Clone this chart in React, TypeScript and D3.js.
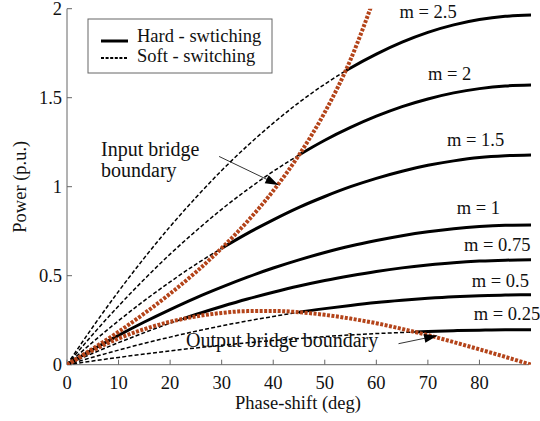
import React from "react";
import * as d3 from "d3";

// Phase-shift samples (deg)
const PHASE = [0, 5, 10, 15, 20, 25, 30, 35, 40, 45, 50, 55, 60, 65, 70, 75, 80, 85, 90];

// Transferred power (p.u.) for each voltage ratio m
const P_M250 = [0, 0.212, 0.412, 0.600, 0.776, 0.939, 1.091, 1.230, 1.357, 1.473, 1.576, 1.667, 1.745, 1.812, 1.867, 1.909, 1.939, 1.957, 1.964];
const P_M200 = [0, 0.170, 0.330, 0.480, 0.621, 0.751, 0.873, 0.984, 1.086, 1.178, 1.261, 1.333, 1.396, 1.450, 1.493, 1.527, 1.551, 1.566, 1.571];
const P_M150 = [0, 0.127, 0.247, 0.360, 0.465, 0.564, 0.654, 0.738, 0.814, 0.884, 0.945, 1.000, 1.047, 1.087, 1.120, 1.145, 1.164, 1.174, 1.178];
const P_M100 = [0, 0.085, 0.165, 0.240, 0.310, 0.376, 0.436, 0.492, 0.543, 0.589, 0.630, 0.667, 0.698, 0.725, 0.747, 0.764, 0.776, 0.783, 0.785];
const P_M075 = [0, 0.064, 0.124, 0.180, 0.233, 0.282, 0.327, 0.369, 0.407, 0.442, 0.473, 0.500, 0.524, 0.544, 0.560, 0.573, 0.582, 0.587, 0.589];
const P_M050 = [0, 0.042, 0.082, 0.120, 0.155, 0.188, 0.218, 0.246, 0.271, 0.295, 0.315, 0.333, 0.349, 0.362, 0.373, 0.382, 0.388, 0.391, 0.393];
const P_M025 = [0, 0.021, 0.041, 0.060, 0.078, 0.094, 0.109, 0.123, 0.136, 0.147, 0.158, 0.167, 0.175, 0.181, 0.187, 0.191, 0.194, 0.196, 0.196];

const M_LABELS = ["m = 2.5", "m = 2", "m = 1.5", "m = 1", "m = 0.75", "m = 0.5", "m = 0.25"];
const M_SERIES = [P_M250, P_M200, P_M150, P_M100, P_M075, P_M050, P_M025];
// Phase-shift where each curve leaves the soft-switching region (deg)
const SWITCH_DEG = [54, 45, 30, 0, 22.5, 45, 67.5];

// Soft-switching boundaries
const INPUT_PHASE = [0, 5, 10, 15, 20, 25, 30, 35, 40, 45, 50, 55, 60];
const INPUT_BOUNDARY = [0, 0.090, 0.185, 0.288, 0.399, 0.520, 0.655, 0.805, 0.977, 1.178, 1.418, 1.714, 2.094];
const OUTPUT_BOUNDARY = [0, 0.080, 0.147, 0.200, 0.241, 0.271, 0.291, 0.301, 0.302, 0.295, 0.280, 0.259, 0.233, 0.201, 0.166, 0.127, 0.086, 0.044, 0];

const X_TICKS = [0, 10, 20, 30, 40, 50, 60, 70, 80];
const Y_TICKS = [0, 0.5, 1, 1.5, 2];

// Curve label anchors in data units [deg, p.u.]
const LABEL_POS: [number, number][] = [
  [64.5, 1.945], [70.0, 1.6], [73.7, 1.229], [75.6, 0.847], [77.0, 0.64], [78.5, 0.437], [78.9, 0.251],
];

const W = 540;
const H = 421;
const FONT = "Liberation Serif, Times New Roman, DejaVu Serif, serif";
const FS = 18.5;
const FS_NOTE = 20;
const ORANGE = "#b4441a";
const AXIS = "#666";

const T = ({ children, size = FS, ...rest }: any) => (
  <text fontSize={size} fill="#111" style={{ fontFamily: FONT }} {...rest}>
    {children}
  </text>
);

export default function App() {
  const x = d3.scaleLinear().domain([0, 90]).range([67, 531]);
  const y = d3.scaleLinear().domain([0, 2]).range([364.7, 8.7]);

  const line = d3
    .line<[number, number]>()
    .x((d) => x(d[0]))
    .y((d) => y(d[1]))
    .curve(d3.curveMonotoneX);

  const pairs = (xs: number[], ys: number[]) => xs.map((v, i) => [v, ys[i]] as [number, number]);

  const arrowHead = (tx: number, ty: number, fx: number, fy: number) => {
    const ang = Math.atan2(ty - fy, tx - fx);
    const len = 13;
    const half = 4.5;
    const bx = tx - len * Math.cos(ang);
    const by = ty - len * Math.sin(ang);
    const px = -Math.sin(ang) * half;
    const py = Math.cos(ang) * half;
    return `M${tx},${ty}L${bx + px},${by + py}L${bx - px},${by - py}Z`;
  };

  const inArrow = { from: [29.5, 1.17], to: [41.0, 1.01] };
  const outArrow = { from: [64.3, 0.118], to: [71.8, 0.163] };

  return (
    <svg width={W} height={H} style={{ display: "block", position: "absolute", left: 0, top: 0, fontFamily: FONT }}>
      <rect width={W} height={H} fill="#fff" />
      <defs>
        <clipPath id="plot-area">
          <rect x={x(0)} y={y(2)} width={x(90) - x(0)} height={y(0) - y(2)} />
        </clipPath>
        {SWITCH_DEG.map((s, i) => (
          <React.Fragment key={i}>
            <clipPath id={`soft-${i}`}>
              <rect x={x(0) - 2} y={0} width={x(s) - x(0) + 2} height={H} />
            </clipPath>
            <clipPath id={`hard-${i}`}>
              <rect x={x(s)} y={0} width={x(90) - x(s) + 2} height={H} />
            </clipPath>
          </React.Fragment>
        ))}
      </defs>

      {/* axes */}
      <line x1={x(0)} x2={x(0)} y1={y(0)} y2={y(2)} stroke={AXIS} strokeWidth={1} />
      <line x1={x(0)} x2={529} y1={y(0)} y2={y(0)} stroke={AXIS} strokeWidth={1} />
      {X_TICKS.map((t) => (
        <g key={t}>
          <line x1={x(t)} x2={x(t)} y1={y(0)} y2={y(0) - 5} stroke={AXIS} />
          <T x={x(t)} y={388.5} textAnchor="middle">
            {t}
          </T>
        </g>
      ))}
      {Y_TICKS.map((t) => (
        <g key={t}>
          <line x1={x(0)} x2={x(0) + 5} y1={y(t)} y2={y(t)} stroke={AXIS} />
          <T x={62} y={y(t) + 6} textAnchor="end">
            {t}
          </T>
        </g>
      ))}
      <T x={298} y={409} textAnchor="middle">
        Phase-shift (deg)
      </T>
      <T transform={`translate(26,${(y(0) + y(2)) / 2}) rotate(-90)`} textAnchor="middle">
        Power (p.u.)
      </T>

      {/* power curves: dashed in soft-switching region, solid in hard-switching */}
      <g clipPath="url(#plot-area)">
        {M_SERIES.map((ser, i) => {
          const d = line(pairs(PHASE, ser)) || "";
          return (
            <g key={i}>
              {SWITCH_DEG[i] > 0 && (
                <path d={d} fill="none" stroke="#000" strokeWidth={1.5} strokeDasharray="4,2.2" clipPath={`url(#soft-${i})`} />
              )}
              <path d={d} fill="none" stroke="#000" strokeWidth={3} clipPath={`url(#hard-${i})`} />
            </g>
          );
        })}
        <path d={line(pairs(INPUT_PHASE, INPUT_BOUNDARY)) || ""} fill="none" stroke={ORANGE} strokeWidth={4} strokeDasharray="3,1.5" />
        <path d={line(pairs(PHASE, OUTPUT_BOUNDARY)) || ""} fill="none" stroke={ORANGE} strokeWidth={4} strokeDasharray="3,1.5" />
      </g>

      {/* curve labels */}
      {M_LABELS.map((lab, i) => (
        <T key={lab} x={x(LABEL_POS[i][0])} y={y(LABEL_POS[i][1])}>
          {lab}
        </T>
      ))}

      {/* boundary annotations */}
      <T x={101} y={155.5} size={FS_NOTE}>Input bridge</T>
      <T x={101} y={177} size={FS_NOTE}>boundary</T>
      <line x1={x(inArrow.from[0])} y1={y(inArrow.from[1])} x2={x(inArrow.to[0])} y2={y(inArrow.to[1])} stroke="#000" strokeWidth={0.8} />
      <path d={arrowHead(x(inArrow.to[0]), y(inArrow.to[1]), x(inArrow.from[0]), y(inArrow.from[1]))} fill="#000" />

      <T x={186} y={347} size={FS_NOTE}>Output bridge boundary</T>
      <line x1={x(outArrow.from[0])} y1={y(outArrow.from[1])} x2={x(outArrow.to[0])} y2={y(outArrow.to[1])} stroke="#000" strokeWidth={0.8} />
      <path d={arrowHead(x(outArrow.to[0]), y(outArrow.to[1]), x(outArrow.from[0]), y(outArrow.from[1]))} fill="#000" />

      {/* legend */}
      <rect x={88} y={19} width={184} height={54} fill="#fff" stroke={AXIS} strokeWidth={1} />
      <line x1={101} x2={128} y1={41} y2={41} stroke="#000" strokeWidth={3} />
      <line x1={101} x2={128} y1={58} y2={58} stroke="#000" strokeWidth={1.8} strokeDasharray="3,1.6" />
      <T x={137} y={41.5}>Hard - swtiching</T>
      <T x={137} y={62}>Soft - switching</T>
    </svg>
  );
}
